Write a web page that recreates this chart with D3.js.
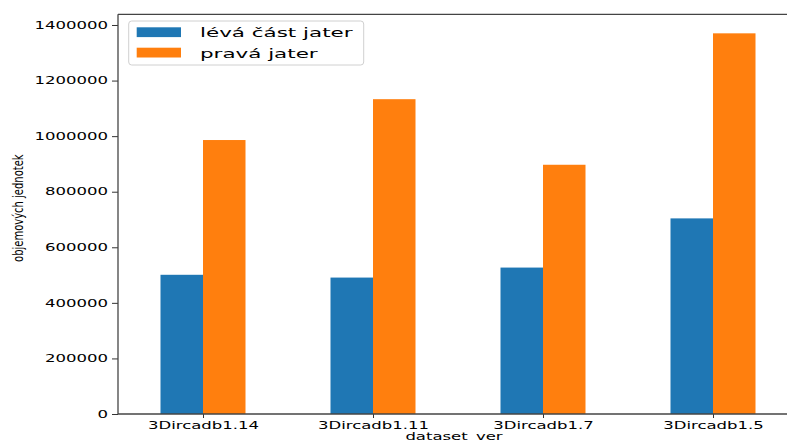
<!DOCTYPE html>
<html>
<head>
<meta charset="utf-8">
<script src="https://cdn.jsdelivr.net/npm/d3@7"></script>
<style>
  html, body { margin: 0; padding: 0; background: #fff; }
  svg { display: block; }
  text { font-family: "DejaVu Sans", sans-serif; fill: #000; }
</style>
</head>
<body>
<svg id="chart" width="787" height="441"></svg>
<script>
// Liver volume per dataset (volume units)
const categories = ["3Dircadb1.14", "3Dircadb1.11", "3Dircadb1.7", "3Dircadb1.5"];
const leftPart = [501000, 491000, 527000, 704000];
const rightPart = [986000, 1133000, 897000, 1370000];
const seriesNames = ["lévá část jater", "pravá jater"];
const yTickValues = [0, 200000, 400000, 600000, 800000, 1000000, 1200000, 1400000];
const xAxisTitle = "dataset_ver";
const yAxisTitle = "objemových jednotek";

const colors = ["#1f77b4", "#ff7f0e"];
const stretch = 1.65;          // horizontal stretch applied to text glyphs

const svg = d3.select("#chart");
const plot = { left: 118, right: 798, top: 14.3, bottom: 414 };

const x = d3.scaleLinear().domain([-0.5, categories.length - 0.5]).range([plot.left, plot.right]);
const yMax = d3.max(rightPart.concat(leftPart)) * 1.05;
const y = d3.scaleLinear().domain([0, yMax]).range([plot.bottom, plot.top]);

const barWidth = 0.25;
const series = [leftPart, rightPart];

// bars
series.forEach((vals, s) => {
  svg.append("g").selectAll("rect")
    .data(vals)
    .join("rect")
    .attr("x", (d, i) => x(i - barWidth + s * barWidth))
    .attr("width", x(barWidth) - x(0))
    .attr("y", d => y(d))
    .attr("height", d => y(0) - y(d))
    .attr("fill", colors[s]);
});

// y axis
const yAxis = svg.append("g")
  .attr("transform", `translate(${plot.left},0)`)
  .call(d3.axisLeft(y).tickValues(yTickValues).tickFormat(d3.format("d")).tickSize(6).tickSizeOuter(0));
yAxis.select(".domain").remove();
yAxis.selectAll(".tick line").attr("stroke", "#333").attr("stroke-width", 1);
yAxis.selectAll(".tick text")
  .attr("x", 0)
  .attr("transform", `translate(-10,0) scale(${stretch},1)`)
  .style("font-size", "10px")
  .style("font-family", "DejaVu Sans")
  .attr("fill", "#000");

// x axis
const xAxis = svg.append("g")
  .attr("transform", `translate(0,${plot.bottom})`)
  .call(d3.axisBottom(x).tickValues(d3.range(categories.length)).tickFormat(i => categories[i]).tickSize(4).tickSizeOuter(0));
xAxis.select(".domain").remove();
xAxis.selectAll(".tick line").attr("stroke", "#333").attr("stroke-width", 1);
xAxis.selectAll(".tick text")
  .attr("y", 0)
  .attr("dy", 0)
  .attr("transform", `translate(0,14.7) scale(${stretch},1)`)
  .style("font-size", "10px")
  .style("font-family", "DejaVu Sans")
  .attr("fill", "#000");

// spines
const spine = (x1, y1, x2, y2) => svg.append("line")
  .attr("x1", x1).attr("y1", y1).attr("x2", x2).attr("y2", y2)
  .attr("stroke", "#444").attr("stroke-width", 1.3);
spine(plot.left, plot.top, plot.left, plot.bottom);
spine(plot.left, plot.bottom, plot.right, plot.bottom);
spine(plot.left, plot.top, plot.right, plot.top);
spine(plot.right, plot.top, plot.right, plot.bottom);

// axis titles
svg.append("text")
  .attr("transform", `translate(${(plot.left + plot.right) / 2 - 4},440.3) scale(${stretch},1)`)
  .attr("text-anchor", "middle")
  .style("font-size", "10px")
  .text(xAxisTitle);

svg.append("text")
  .attr("transform", `translate(23,${(plot.top + plot.bottom) / 2 - 6}) rotate(-90) scale(1,1.35)`)
  .attr("text-anchor", "middle")
  .style("font-size", "10px")
  .text(yAxisTitle);

// legend
const legend = svg.append("g");
legend.append("rect")
  .attr("x", 128.7).attr("y", 21).attr("width", 235).attr("height", 44)
  .attr("rx", 3).attr("ry", 3)
  .attr("fill", "#fff").attr("fill-opacity", 0.8)
  .attr("stroke", "#d0d0d0").attr("stroke-width", 1);
seriesNames.forEach((name, s) => {
  const ry = 27.3 + s * 20.4;
  legend.append("rect")
    .attr("x", 136.7).attr("y", ry).attr("width", 44.3).attr("height", 9.8)
    .attr("fill", colors[s]);
  legend.append("text")
    .attr("transform", `translate(200,${ry + 10}) scale(${stretch},1)`)
    .style("font-size", "13px")
    .text(name);
});
</script>
</body>
</html>
